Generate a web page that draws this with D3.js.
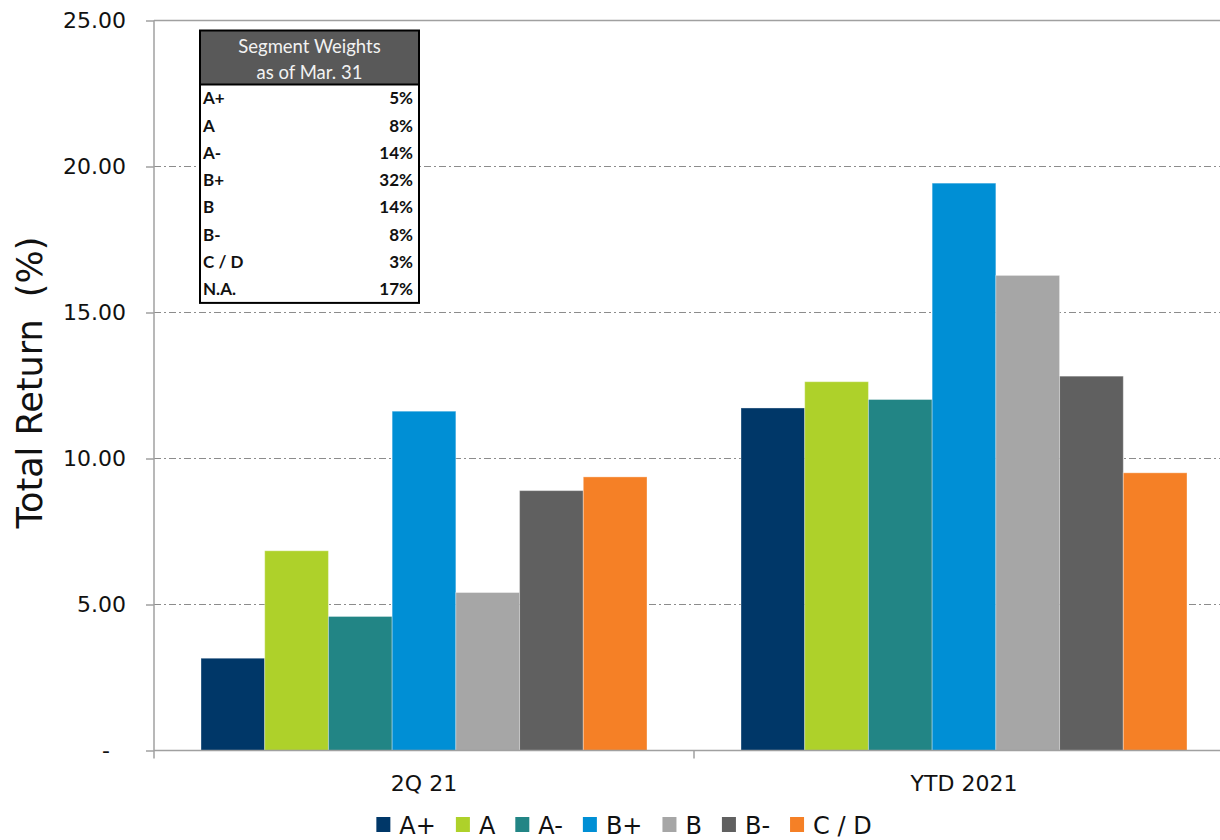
<!DOCTYPE html>
<html>
<head>
  <meta charset="utf-8">
  <title>Total Return by Segment</title>
  <script src="https://d3js.org/d3.v7.min.js"></script>
  <style>
    body { margin: 0; background: #fff; }
    text { font-family: "DejaVu Sans", Verdana, sans-serif; fill: #111; }
  </style>
</head>
<body>
  <svg width="1220" height="840"></svg>
  <script>
    var categories = ["2Q 21", "YTD 2021"];
    var segments = ["A+", "A", "A-", "B+", "B", "B-", "C / D"];
    var q2Returns = [3.16, 6.84, 4.59, 11.62, 5.41, 8.90, 9.37];
    var ytdReturns = [11.73, 12.63, 12.02, 19.43, 16.27, 12.82, 9.51];
    var yTicks = [0, 5, 10, 15, 20, 25];
    var weightLabels = ["A+", "A", "A-", "B+", "B", "B-", "C / D", "N.A."];
    var weights = [5, 8, 14, 32, 14, 8, 3, 17];
    var colors = ["#003768", "#aed12a", "#228585", "#008fd5", "#a6a6a6", "#606060", "#f58026"];

    var svg = d3.select("svg"),
        margin = {top: 20.5, left: 154},
        plotW = 1080,
        plotH = 730;

    var x = d3.scaleBand()
        .domain(categories)
        .range([margin.left, margin.left + plotW]);

    var xs = d3.scaleBand()
        .domain(segments)
        .range([47, x.bandwidth() - 47]);

    var y = d3.scaleLinear()
        .domain([0, 25])
        .range([margin.top + plotH, margin.top]);

    var color = d3.scaleOrdinal().domain(segments).range(colors);

    var rows = categories.map(function(c, i) {
      var vals = i === 0 ? q2Returns : ytdReturns;
      return {cat: c, values: segments.map(function(s, j) { return {seg: s, v: vals[j]}; })};
    });

    // gridlines
    svg.append("g")
      .selectAll("line")
      .data(yTicks.filter(function(d) { return d > 0; }))
      .enter().append("line")
      .attr("x1", margin.left).attr("x2", 1220)
      .attr("y1", function(d) { return y(d); })
      .attr("y2", function(d) { return y(d); })
      .attr("stroke", function(d) { return d === 25 ? "#a0a0a0" : "#8c8c8c"; })
      .attr("stroke-width", function(d) { return d === 25 ? 1.5 : 1; })
      .attr("stroke-dasharray", function(d) { return d === 25 ? null : "7,3,2,3"; });

    // bars
    var groups = svg.append("g")
      .selectAll("g")
      .data(rows)
      .enter().append("g")
      .attr("transform", function(d) { return "translate(" + x(d.cat) + ",0)"; });

    groups.selectAll("rect")
      .data(function(d) { return d.values; })
      .enter().append("rect")
      .attr("x", function(d) { return xs(d.seg); })
      .attr("width", xs.bandwidth())
      .attr("y", function(d) { return y(d.v); })
      .attr("height", function(d) { return y(0) - y(d.v); })
      .attr("fill", function(d) { return color(d.seg); })
      .attr("stroke", "rgba(255,255,255,0.35)")
      .attr("stroke-width", 1);

    // y axis
    var yAxis = d3.axisLeft(y)
      .tickValues(yTicks)
      .tickSize(8)
      .tickPadding(20)
      .tickFormat(function(d) { return d === 0 ? "-" : d3.format(".2f")(d); });

    var gy = svg.append("g")
      .attr("transform", "translate(" + margin.left + ",0)")
      .call(yAxis);
    gy.select(".domain").remove();
    gy.selectAll(".tick line").attr("stroke", "#a0a0a0").attr("stroke-width", 1.5);
    gy.selectAll(".tick text")
      .attr("font-family", "DejaVu Sans, Verdana, sans-serif")
      .attr("font-size", 22)
      .attr("fill", "#111")
      .attr("dx", function(d) { return d === 0 ? -16 : 0; });
    gy.append("line")
      .attr("x1", 0).attr("x2", 0)
      .attr("y1", y(25)).attr("y2", y(0) + 8)
      .attr("stroke", "#a0a0a0").attr("stroke-width", 1.5);

    // x axis
    var gx = svg.append("g");
    gx.append("line")
      .attr("x1", margin.left).attr("x2", margin.left + plotW)
      .attr("y1", y(0)).attr("y2", y(0))
      .attr("stroke", "#a0a0a0").attr("stroke-width", 1.5);
    gx.selectAll("line.cut")
      .data(categories.slice(1))
      .enter().append("line")
      .attr("class", "cut")
      .attr("x1", function(d) { return x(d); })
      .attr("x2", function(d) { return x(d); })
      .attr("y1", y(0)).attr("y2", y(0) + 8)
      .attr("stroke", "#a0a0a0").attr("stroke-width", 1.5);
    gx.selectAll("text")
      .data(categories)
      .enter().append("text")
      .attr("x", function(d) { return x(d) + x.bandwidth() / 2; })
      .attr("y", y(0) + 40)
      .attr("text-anchor", "middle")
      .attr("font-size", 22)
      .text(function(d) { return d; });

    // y title
    svg.append("text")
      .attr("transform", "translate(42," + (margin.top + 362) + ") rotate(-90)")
      .attr("text-anchor", "middle")
      .attr("font-size", 35)
      .style("white-space", "pre")
      .text("Total Return  (%)");

    // legend
    var legend = svg.append("g");
    var items = legend.selectAll("g")
      .data(segments)
      .enter().append("g");
    items.append("rect")
      .attr("width", 14).attr("height", 15)
      .attr("y", -17)
      .attr("fill", function(d) { return color(d); });
    items.append("text")
      .attr("x", 23)
      .attr("font-size", 24)
      .text(function(d) { return d; });
    var lx = 0;
    items.each(function() {
      var w = this.querySelector("text").getComputedTextLength();
      d3.select(this).attr("transform", "translate(" + lx + ",0)");
      lx += 23 + w + 20;
    });
    var legendW = lx - 20;
    legend.attr("transform", "translate(" + (624 - legendW / 2) + ",834)");

    // segment weights table
    var tb = {x: 200, y: 30.5, w: 219, head: 54, rowH: 27.3};
    var table = svg.append("g").attr("transform", "translate(" + tb.x + "," + tb.y + ")");
    table.append("rect")
      .attr("width", tb.w).attr("height", tb.head + tb.rowH * weights.length)
      .attr("fill", "#fff");
    table.append("rect")
      .attr("width", tb.w).attr("height", tb.head)
      .attr("fill", "#595959");
    table.selectAll("text.head")
      .data(["Segment Weights", "as of Mar. 31"])
      .enter().append("text")
      .attr("class", "head")
      .attr("x", tb.w / 2)
      .attr("y", function(d, i) { return 22 + i * 26; })
      .attr("text-anchor", "middle")
      .style("font-family", "Lato, 'Open Sans', sans-serif")
      .style("fill", "#f2f2f2")
      .attr("font-size", 18.5)
      .text(function(d) { return d; });
    var tr = table.selectAll("g.row")
      .data(weightLabels)
      .enter().append("g")
      .attr("class", "row")
      .attr("transform", function(d, i) { return "translate(0," + (tb.head + tb.rowH * (i + 0.5)) + ")"; });
    tr.append("text")
      .attr("x", 3).attr("dy", "0.36em")
      .style("font-family", "Lato, 'Open Sans', sans-serif")
      .attr("font-size", 17).attr("font-weight", "bold")
      .text(function(d) { return d; });
    tr.append("text")
      .attr("x", tb.w - 6).attr("dy", "0.36em")
      .attr("text-anchor", "end")
      .style("font-family", "Lato, 'Open Sans', sans-serif")
      .attr("font-size", 17).attr("font-weight", "bold")
      .text(function(d, i) { return weights[i] + "%"; });
    table.append("line")
      .attr("x1", 0).attr("x2", tb.w)
      .attr("y1", tb.head).attr("y2", tb.head)
      .attr("stroke", "#000").attr("stroke-width", 2);
    table.append("rect")
      .attr("width", tb.w).attr("height", tb.head + tb.rowH * weights.length)
      .attr("fill", "none")
      .attr("stroke", "#000").attr("stroke-width", 2);
  </script>
</body>
</html>
